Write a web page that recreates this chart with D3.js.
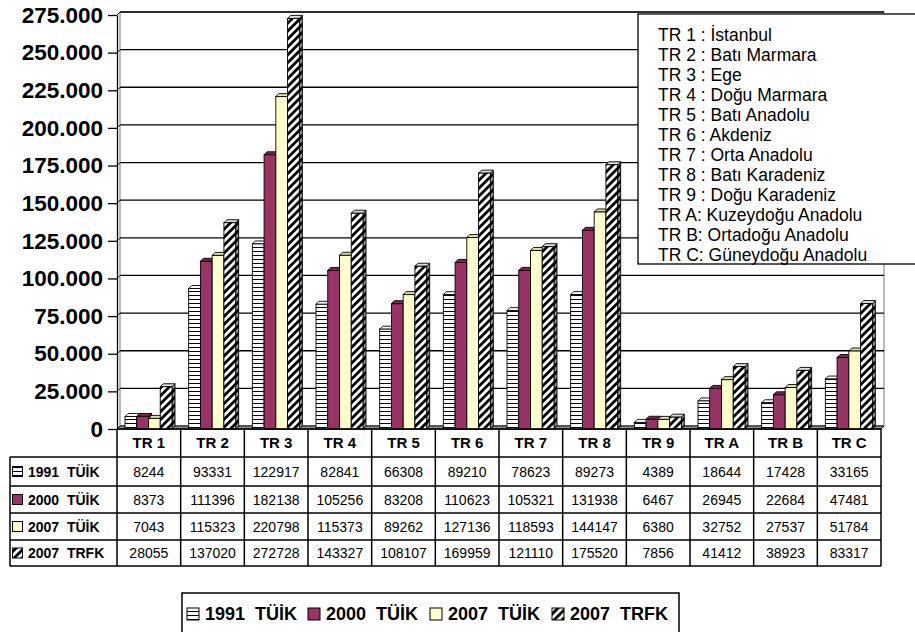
<!DOCTYPE html>
<html>
<head>
<meta charset="utf-8">
<script src="https://cdn.jsdelivr.net/npm/d3@7/dist/d3.min.js"></script>
<style>
  html, body { margin: 0; padding: 0; background: #fff; }
  svg, svg text { font-family: "Liberation Sans", Arial, sans-serif; }
</style>
</head>
<body>
<svg id="chart" width="915" height="632"></svg>
<script>
// ---------------- DATA ----------------
const categories = ["TR 1", "TR 2", "TR 3", "TR 4", "TR 5", "TR 6", "TR 7", "TR 8", "TR 9", "TR A", "TR B", "TR C"];
const seriesNames = ["1991  TÜİK", "2000  TÜİK", "2007  TÜİK", "2007  TRFK"];
const values1991 = [8244, 93331, 122917, 82841, 66308, 89210, 78623, 89273, 4389, 18644, 17428, 33165];
const values2000 = [8373, 111396, 182138, 105256, 83208, 110623, 105321, 131938, 6467, 26945, 22684, 47481];
const values2007 = [7043, 115323, 220798, 115373, 89262, 127136, 118593, 144147, 6380, 32752, 27537, 51784];
const values2007trfk = [28055, 137020, 272728, 143327, 108107, 169959, 121110, 175520, 7856, 41412, 38923, 83317];
const yTicks = [0, 25000, 50000, 75000, 100000, 125000, 150000, 175000, 200000, 225000, 250000, 275000];
const regionNames = [
  "TR 1 : İstanbul", "TR 2 : Batı Marmara", "TR 3 : Ege", "TR 4 : Doğu Marmara",
  "TR 5 : Batı Anadolu", "TR 6 : Akdeniz", "TR 7 : Orta Anadolu", "TR 8 : Batı Karadeniz",
  "TR 9 : Doğu Karadeniz", "TR A: Kuzeydoğu Anadolu", "TR B: Ortadoğu Anadolu", "TR C: Güneydoğu Anadolu"
];

const seriesValues = [values1991, values2000, values2007, values2007trfk];
const FONT = "'Liberation Sans', Arial, sans-serif";

const svg = d3.select("#chart");
const defs = svg.append("defs");

const pH = defs.append("pattern").attr("id", "hz").attr("patternUnits", "userSpaceOnUse")
  .attr("width", 4).attr("height", 4);
pH.append("rect").attr("width", 4).attr("height", 4).attr("fill", "#fff");
pH.append("rect").attr("y", 3).attr("width", 4).attr("height", 1).attr("fill", "#000");

const pHs = defs.append("pattern").attr("id", "hzs").attr("patternUnits", "userSpaceOnUse")
  .attr("width", 4).attr("height", 4);
pHs.append("rect").attr("width", 4).attr("height", 4).attr("fill", "#ccc");
pHs.append("rect").attr("y", 3).attr("width", 4).attr("height", 1).attr("fill", "#000");

const pD = defs.append("pattern").attr("id", "dg").attr("patternUnits", "userSpaceOnUse")
  .attr("width", 5.6).attr("height", 5.6).attr("patternTransform", "rotate(45)");
pD.append("rect").attr("width", 5.6).attr("height", 5.6).attr("fill", "#fff");
pD.append("rect").attr("width", 2.8).attr("height", 5.6).attr("fill", "#000");

const pDs = defs.append("pattern").attr("id", "dgs").attr("patternUnits", "userSpaceOnUse")
  .attr("width", 5.6).attr("height", 5.6).attr("patternTransform", "rotate(45)");
pDs.append("rect").attr("width", 5.6).attr("height", 5.6).attr("fill", "#999");
pDs.append("rect").attr("width", 2.8).attr("height", 5.6).attr("fill", "#000");

const styles = [
  { front: "url(#hz)", top: "#fff", side: "url(#hzs)" },
  { front: "#993366", top: "#7a2951", side: "#66213f" },
  { front: "#FFFFCC", top: "#e0e0b0", side: "#c8c89a" },
  { front: "url(#dg)", top: "#ddd", side: "url(#dgs)" }
];

const x = d3.scaleBand().domain(categories).range([117, 881]).paddingInner(0).paddingOuter(0);
const xs = d3.scaleBand().domain(seriesNames).range([8, 8 + 47]);
const y = d3.scaleLinear().domain([0, 275000]).range([429, 15]);
const D = 3;
const fmt = v => v === 0 ? "0" : d3.format(",")(v).replace(/,/g, ".");

const xL = 117, xR = 881;
svg.append("rect")
  .attr("x", xL + D).attr("y", y(275000) - D)
  .attr("width", xR - xL).attr("height", y(0) - y(275000))
  .attr("fill", "#fff").attr("stroke", "#8c8c8c").attr("stroke-width", 1.2);
yTicks.forEach(t => {
  if (t === 0) return;
  svg.append("line")
    .attr("x1", xL + D).attr("x2", xR + D)
    .attr("y1", y(t) - D).attr("y2", y(t) - D)
    .attr("stroke", "#000").attr("stroke-width", 1.3);
  svg.append("line")
    .attr("x1", xL).attr("x2", xL + D)
    .attr("y1", y(t)).attr("y2", y(t) - D)
    .attr("stroke", "#000").attr("stroke-width", 1);
});
svg.append("polygon")
  .attr("points", [[xL, y(0)], [xL + D, y(0) - D], [xR + D, y(0) - D], [xR, y(0)]].map(p => p.join(",")).join(" "))
  .attr("fill", "#969696").attr("stroke", "#000").attr("stroke-width", 1);

categories.forEach((c, i) => {
  seriesNames.forEach((s, j) => {
    const v = seriesValues[j][i];
    const x0 = x(c) + xs(s);
    const w = xs.bandwidth();
    const yt = y(v), yb = y(0);
    const g = svg.append("g");
    g.append("polygon")
      .attr("points", [[x0 + w, yt], [x0 + w + D, yt - D], [x0 + w + D, yb - D], [x0 + w, yb]].map(p => p.join(",")).join(" "))
      .attr("fill", styles[j].side).attr("stroke", "#000").attr("stroke-width", 0.9);
    g.append("polygon")
      .attr("points", [[x0, yt], [x0 + D, yt - D], [x0 + w + D, yt - D], [x0 + w, yt]].map(p => p.join(",")).join(" "))
      .attr("fill", styles[j].top).attr("stroke", "#000").attr("stroke-width", 0.9);
    g.append("rect")
      .attr("x", x0).attr("y", yt).attr("width", w).attr("height", yb - yt)
      .attr("fill", styles[j].front).attr("stroke", "#000").attr("stroke-width", 0.9);
  });
});

const axis = d3.axisLeft(y).tickValues(yTicks).tickFormat(fmt).tickSize(9).tickSizeOuter(0).tickPadding(5);
const ag = svg.append("g").attr("transform", `translate(${xL},0)`).call(axis);
ag.attr("font-family", null).attr("font-size", null);
ag.select(".domain").attr("stroke", "#000").attr("stroke-width", 1.3);
ag.selectAll(".tick line").attr("stroke", "#000").attr("stroke-width", 1.3);
ag.selectAll(".tick text")
  .style("font-family", FONT)
  .style("font-size", "22.5px").style("font-weight", "bold").attr("fill", "#000");

const lg = svg.append("g");
lg.append("rect").attr("x", 638).attr("y", 14).attr("width", 290).attr("height", 250)
  .attr("fill", "#fff").attr("stroke", "#000").attr("stroke-width", 1.3);
lg.selectAll("text.reg").data(regionNames).enter().append("text")
  .attr("class", "reg")
  .attr("x", 658).attr("y", (d, i) => 35 + i * 20)
  .attr("dy", "0.36em")
  .style("font-family", FONT).style("font-size", "17.5px").attr("fill", "#000")
  .text(d => d);

const rowY = [429, 457, 486, 513, 540, 566];
const tableLeft = 10;
const tg = svg.append("g");
const lineStyle = sel => sel.attr("stroke", "#000").attr("stroke-width", 1.5);
tg.append("line").attr("x1", xL).attr("x2", xR).attr("y1", rowY[0]).attr("y2", rowY[0]).call(lineStyle);
for (let r = 1; r < rowY.length; r++) {
  tg.append("line").attr("x1", tableLeft).attr("x2", xR).attr("y1", rowY[r]).attr("y2", rowY[r]).call(lineStyle);
}
tg.append("line").attr("x1", tableLeft).attr("x2", tableLeft).attr("y1", rowY[1]).attr("y2", rowY[5]).call(lineStyle);
categories.forEach(c => {
  tg.append("line").attr("x1", x(c)).attr("x2", x(c)).attr("y1", rowY[0]).attr("y2", rowY[5]).call(lineStyle);
});
tg.append("line").attr("x1", xR).attr("x2", xR).attr("y1", rowY[0]).attr("y2", rowY[5]).call(lineStyle);

categories.forEach(c => {
  tg.append("text").attr("x", x(c) + x.bandwidth() / 2).attr("y", (rowY[0] + rowY[1]) / 2)
    .attr("dy", "0.36em").attr("text-anchor", "middle")
    .style("font-family", FONT).style("font-size", "15px").style("font-weight", "bold").text(c);
});
const swatchFill = ["url(#hz)", "#993366", "#FFFFCC", "url(#dg)"];
seriesNames.forEach((s, j) => {
  const cy = (rowY[j + 1] + rowY[j + 2]) / 2;
  tg.append("rect").attr("x", 12.5).attr("y", cy - 5).attr("width", 10).attr("height", 10)
    .attr("fill", swatchFill[j]).attr("stroke", "#000").attr("stroke-width", 1);
  tg.append("text").attr("x", 28).attr("y", cy).attr("dy", "0.36em")
    .style("font-family", FONT).style("font-size", "14px").style("font-weight", "bold")
    .style("white-space", "pre").text(s);
  categories.forEach((c, i) => {
    tg.append("text").attr("x", x(c) + x.bandwidth() / 2).attr("y", cy).attr("dy", "0.36em")
      .attr("text-anchor", "middle")
      .style("font-family", FONT).style("font-size", "14px").text(seriesValues[j][i]);
  });
});

const bl = svg.append("g");
bl.append("rect").attr("x", 182).attr("y", 593).attr("width", 497).attr("height", 50)
  .attr("fill", "#fff").attr("stroke", "#000").attr("stroke-width", 1.5);
const legX = [187, 308, 430, 552];
seriesNames.forEach((s, j) => {
  bl.append("rect").attr("x", legX[j]).attr("y", 608).attr("width", 12).attr("height", 12)
    .attr("fill", swatchFill[j]).attr("stroke", "#000").attr("stroke-width", 1);
  bl.append("text").attr("x", legX[j] + 18).attr("y", 614).attr("dy", "0.36em")
    .style("font-family", FONT).style("font-size", "18px").style("font-weight", "bold")
    .style("white-space", "pre").text(s);
});
</script>
</body>
</html>
